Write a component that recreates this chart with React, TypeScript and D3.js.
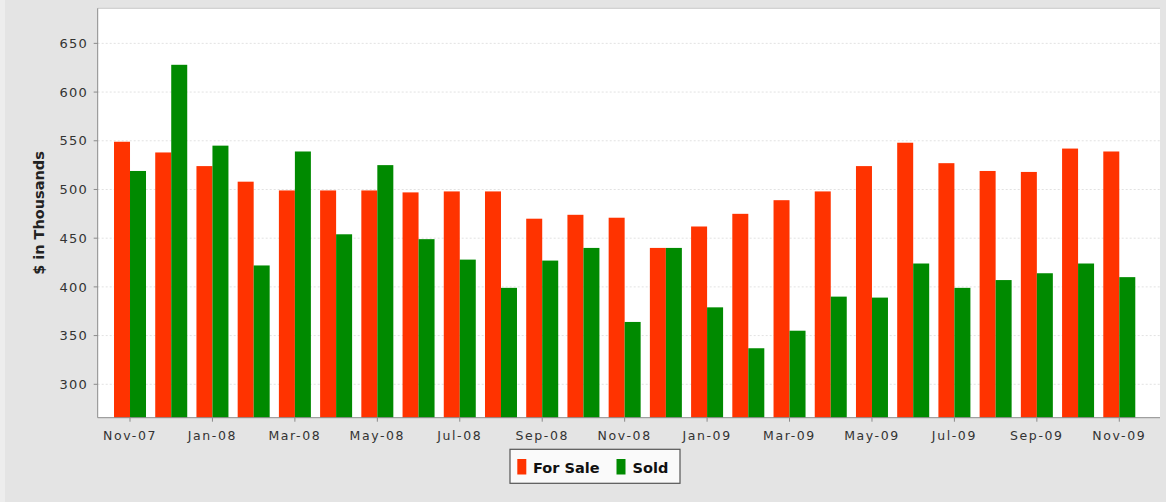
import React from "react";
import * as d3 from "d3";

const categories = [
  "Nov-07", "Dec-07", "Jan-08", "Feb-08", "Mar-08", "Apr-08", "May-08", "Jun-08", "Jul-08",
  "Aug-08", "Sep-08", "Oct-08", "Nov-08", "Dec-08", "Jan-09", "Feb-09", "Mar-09", "Apr-09",
  "May-09", "Jun-09", "Jul-09", "Aug-09", "Sep-09", "Oct-09", "Nov-09",
];
const forSale = [549, 538, 524, 508, 499, 499, 499, 497, 498, 498, 470, 474, 471, 440, 462, 475, 489, 498, 524, 548, 527, 519, 518, 542, 539];
const sold = [519, 628, 545, 422, 539, 454, 525, 449, 428, 399, 427, 440, 364, 440, 379, 337, 355, 390, 389, 424, 399, 407, 414, 424, 410];
const seriesNames = ["For Sale", "Sold"];
const seriesColors = ["#FF3300", "#008A00"];
const yTicks = [300, 350, 400, 450, 500, 550, 600, 650];
const xTickLabels = ["Nov-07", "Jan-08", "Mar-08", "May-08", "Jul-08", "Sep-08", "Nov-08", "Jan-09", "Mar-09", "May-09", "Jul-09", "Sep-09", "Nov-09"];

const W = 1166;
const H = 502;
const plot = { left: 97.7, right: 1160, top: 8.3, bottom: 417.7 };

export default function App() {
  const y = d3.scaleLinear().domain([265.7, 686]).range([plot.bottom, plot.top]);
  const x0 = d3
    .scaleBand<string>()
    .domain(categories)
    .range([109.4, 1139.9])
    .paddingInner(0.2237)
    .paddingOuter(0.11185);
  const x1 = d3.scaleBand<string>().domain(seriesNames).range([0, x0.bandwidth()]);
  const values = [forSale, sold];
  const font = "'DejaVu Sans', Verdana, sans-serif";
  const center = (c: string) => (x0(c) as number) + x0.bandwidth() / 2;

  return (
    <svg width={W} height={H} style={{ position: "absolute", left: 0, top: 0, display: "block" }} fontFamily={font}>
      <rect x={0} y={0} width={W} height={H} fill="#E4E4E4" />
      <rect x={0} y={0} width={5} height={H} fill="#EDEDED" />
      <rect x={plot.left} y={plot.top} width={plot.right - plot.left} height={plot.bottom - plot.top} fill="#FFFFFF" />
      <line x1={plot.left} x2={plot.right} y1={plot.top} y2={plot.top} stroke="#C8C8C8" strokeWidth={1} />
      {yTicks.map((t) => (
        <line key={"g" + t} x1={plot.left} x2={plot.right} y1={y(t)} y2={y(t)} stroke="#E2E2E2" strokeWidth={1} strokeDasharray="2,2" />
      ))}
      {categories.map((c, i) =>
        seriesNames.map((s, k) => {
          const v = values[k][i];
          return (
            <rect
              key={c + s}
              x={(x0(c) as number) + (x1(s) as number)}
              y={y(v)}
              width={x1.bandwidth()}
              height={plot.bottom - y(v)}
              fill={seriesColors[k]}
            />
          );
        })
      )}
      {/* axes */}
      <line x1={plot.left} x2={plot.left} y1={plot.top} y2={plot.bottom} stroke="#8A8A8A" strokeWidth={1} />
      <line x1={plot.left} x2={plot.right} y1={plot.bottom} y2={plot.bottom} stroke="#8A8A8A" strokeWidth={1} />
      {yTicks.map((t) => (
        <g key={"yt" + t}>
          <line x1={plot.left - 4} x2={plot.left} y1={y(t)} y2={y(t)} stroke="#8A8A8A" />
          <text x={88} y={y(t)} dy="0.36em" textAnchor="end" fontSize={13} letterSpacing={1.2} fill="#333">
            {t}
          </text>
        </g>
      ))}
      {xTickLabels.map((c) => (
        <g key={"xt" + c}>
          <line x1={center(c)} x2={center(c)} y1={plot.bottom} y2={plot.bottom + 4} stroke="#8A8A8A" />
          <text x={center(c)} y={440} textAnchor="middle" fontSize={12.5} letterSpacing={1.6} fill="#333">
            {c}
          </text>
        </g>
      ))}
      <text
        transform={`translate(43.5, ${(plot.top + plot.bottom) / 2}) rotate(-90)`}
        textAnchor="middle"
        fontSize={14.5}
        fontWeight="bold"
        fill="#222"
      >
        $ in Thousands
      </text>
      {/* legend */}
      <rect x={510} y={449.3} width={170} height={34} fill="#FAFAFA" stroke="#555" strokeWidth={1.2} />
      <rect x={517.3} y={459} width={9} height={15.5} fill={seriesColors[0]} />
      <text x={533} y={472.5} fontSize={14.5} fontWeight="bold" fill="#111">For Sale</text>
      <rect x={616.5} y={459} width={9} height={15.5} fill={seriesColors[1]} />
      <text x={632.5} y={472.5} fontSize={14.5} fontWeight="bold" fill="#111">Sold</text>
    </svg>
  );
}
